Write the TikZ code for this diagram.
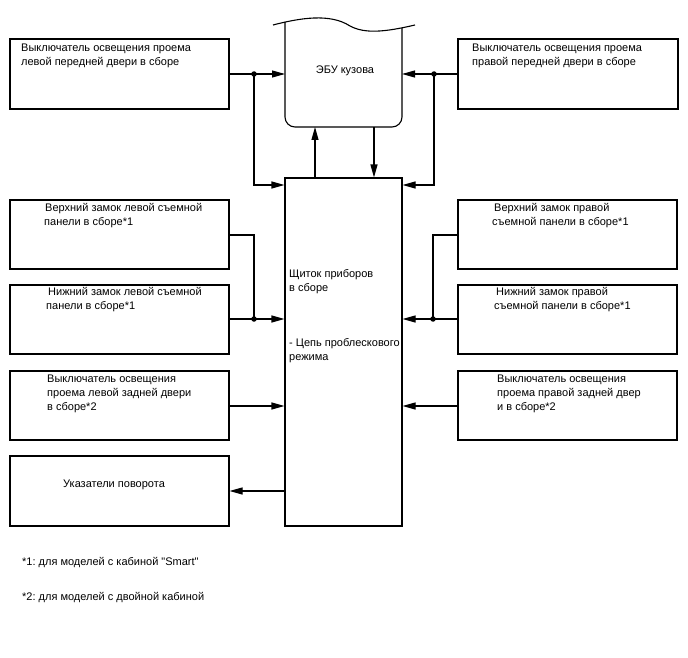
\documentclass[tikz,border=0pt]{standalone}
\usepackage{fontspec}
\setmainfont{Liberation Sans}[Ligatures=TeXOff]
\frenchspacing
\usetikzlibrary{arrows.meta}
\begin{document}
\begin{tikzpicture}[x=1pt,y=-1pt,
  box/.style={draw, line width=1.1pt, inner sep=0pt},
  txt/.style={anchor=north west, inner sep=0pt, align=left, font=\fontsize{11}{13.8}\selectfont},
  wire/.style={line width=1.1pt},
  arr/.style={line width=1.1pt, -{Triangle[length=13pt,width=7pt]}},
  dot/.style={circle, fill, inner sep=0pt, minimum size=5.5pt}]
\useasboundingbox (0,0) rectangle (688,658);
% boxes
\node[box, minimum width=219pt, minimum height=70pt] (lf) at (119.5,74) {};
\node[box, minimum width=220pt, minimum height=70pt] (rf) at (568,74) {};
\node[box, minimum width=117pt, minimum height=348pt] (ic) at (343.5,352) {};
\node[box, minimum width=219pt, minimum height=69pt] (lu) at (119.5,234.5) {};
\node[box, minimum width=219pt, minimum height=69pt] (ll) at (119.5,319.5) {};
\node[box, minimum width=219pt, minimum height=69pt] (lr) at (119.5,405.5) {};
\node[box, minimum width=219pt, minimum height=70pt] (ts) at (119.5,491) {};
\node[box, minimum width=219pt, minimum height=69pt] (ru) at (567.5,234.5) {};
\node[box, minimum width=219pt, minimum height=69pt] (rl) at (567.5,319.5) {};
\node[box, minimum width=219pt, minimum height=69pt] (rr) at (567.5,405.5) {};
% ECU shape
\draw[line width=1.1pt, rounded corners=10pt] (285,22) |- (402,127) -- (402,28);
\draw[line width=1.1pt] (273,25) .. controls (300,18) and (330,13) .. (350,26)
   .. controls (365,34) and (385,32) .. (415,25);
\coordinate (ecuL) at (285,74);
\coordinate (ecuR) at (402,74);
\coordinate (ecuB1) at (315,127);
\coordinate (ecuB2) at (374,127);
\node[inner sep=0pt, font=\fontsize{11}{13.8}\selectfont] (ecut) at (345,71) {ЭБУ кузова};
% texts
\node[txt] (lft) at (21,44) {Выключатель освещения проема\\левой передней двери в сборе};
\node[txt] (rft) at (472,44) {Выключатель освещения проема\\правой передней двери в сборе};
\node[txt] (lut) at (44,203) {\hspace{1pt}Верхний замок левой съемной\\панели в сборе*1};
\node[txt] (llt) at (46,287) {\hspace{2pt}Нижний замок левой съемной\\панели в сборе*1};
\node[txt] (lrt) at (47,375) {Выключатель освещения\\проема левой задней двери\\в сборе*2};
\node[txt] (tst) at (63,480) {Указатели поворота};
\node[txt] (rut) at (492,203) {\hspace{2pt}Верхний замок правой\\съемной панели в сборе*1};
\node[txt] (rlt) at (494,287) {\hspace{2pt}Нижний замок правой\\съемной панели в сборе*1};
\node[txt] (rrt) at (497,375) {Выключатель освещения\\проема правой задней двер\\и в сборе*2};
\node[txt] (ict1) at (289,269) {Щиток приборов\\в сборе};
\node[txt] (ict2) at (289,338) {- Цепь проблескового\\режима};
\node[txt] (fn1) at (22,557) {*1: для моделей с кабиной "Smart"};
\node[txt] (fn2) at (22,592) {*2: для моделей с двойной кабиной};
% dots
\node[dot] (d1) at (254,74) {};
\node[dot] (d2) at (434,74) {};
\node[dot] (d3) at (254,319) {};
\node[dot] (d4) at (433,319) {};
% connectors
\draw[wire] (lf.east |- d1) -- (d1.center);
\draw[arr] (d1.center) -- (ecuL);
\draw[arr] (d1.center) |- (ic.west |- 0,185);
\draw[wire] (rf.west |- d2) -- (d2.center);
\draw[arr] (d2.center) -- (ecuR);
\draw[arr] (d2.center) |- (ic.east |- 0,185);
\draw[arr] (ic.north -| ecuB1) -- (ecuB1);
\draw[arr] (ecuB2) -- (ic.north -| ecuB2);
\draw[wire] (lu.east |- 0,235) -| (d3.center);
\draw[wire] (ll.east |- d3) -- (d3.center);
\draw[arr] (d3.center) -- (ic.west |- d3);
\draw[wire] (ru.west |- 0,235) -| (d4.center);
\draw[wire] (rl.west |- d4) -- (d4.center);
\draw[arr] (d4.center) -- (ic.east |- d4);
\draw[arr] (lr.east |- 0,406) -- (ic.west |- 0,406);
\draw[arr] (rr.west |- 0,406) -- (ic.east |- 0,406);
\draw[arr] (ic.west |- 0,491) -- (ts.east |- 0,491);
\end{tikzpicture}
\end{document}
